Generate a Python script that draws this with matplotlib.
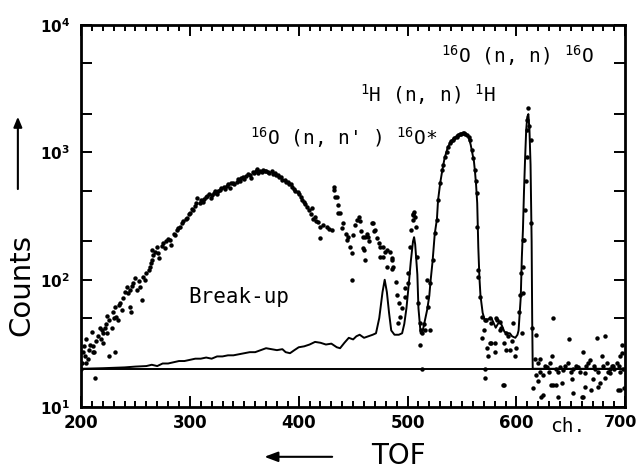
import matplotlib
matplotlib.use('Agg')
import matplotlib.pyplot as plt
from matplotlib.ticker import MultipleLocator, LogLocator, FixedLocator, FixedFormatter, NullFormatter

plt.rcParams['mathtext.fontset'] = 'custom'
plt.rcParams['mathtext.rm'] = 'DejaVu Sans Mono'
plt.rcParams['mathtext.it'] = 'DejaVu Sans Mono'
plt.rcParams['mathtext.bf'] = 'DejaVu Sans:bold'

# ---------------- data ----------------
pts_x = [200, 201, 202, 203, 204, 205, 205, 206, 207, 208, 210, 211, 211, 212, 213, 214, 216, 217, 218, 219,
         220, 220, 222, 223, 224, 224, 226, 226, 228, 229, 230, 231, 231, 232, 234, 235, 236, 238, 239, 240,
         242, 243, 245, 245, 246, 247, 248, 250, 251, 253, 254, 256, 257, 259, 260, 262, 263, 264, 265, 266,
         265, 268, 270, 271, 272, 274, 275, 277, 278, 280, 282, 283, 285, 286, 288, 289, 291, 293, 294, 296,
         297, 299, 300, 302, 303, 305, 306, 307, 309,
         310, 312, 313, 315, 316, 318, 319, 320, 322, 323, 325, 326, 328, 329, 331, 332, 334, 335, 337, 338,
         340, 341, 343, 344, 346, 347, 349, 350, 352, 353, 355, 356, 358, 359, 361, 362, 363, 364, 366, 367,
         369, 370, 372, 373, 375, 376, 378, 379, 381, 382, 384, 385, 387, 388, 390, 391, 393, 394, 396, 397,
         399, 400, 402, 403, 405, 406, 408, 409, 411, 412, 413, 415, 416, 418,
         420, 420, 422, 426, 428, 431, 432, 432, 433, 435, 436, 436, 438, 440, 441, 443, 444, 445, 447, 449,
         449, 450, 452, 454, 455, 456, 457, 459, 459, 460, 461, 461, 463, 464, 465, 467, 468, 469, 470, 472,
         474, 475, 475, 477, 477, 479, 481, 481, 484, 486, 486, 486, 487, 489, 490, 491, 492, 493, 495, 498,
         498, 500, 500,
         502, 503, 505, 505, 505, 506, 507, 508, 509, 510, 511, 511, 512, 513, 513, 515, 516, 518, 518, 519,
         521, 521,
         523, 525, 527, 528, 530, 532, 533, 534, 536, 537, 539, 540, 542, 543, 545, 546, 548, 549, 551, 552,
         553, 555, 556, 557, 559, 560, 562, 563, 564, 564, 565, 565, 567, 568, 568, 570, 571, 571, 571, 572,
         573, 574, 576, 576, 577, 577, 580, 580, 581, 582, 585, 585, 586, 588, 589, 589, 590, 590, 592, 594,
         596, 597, 599, 600, 602, 603, 604, 606,
         605, 606, 606, 607, 608, 609, 610, 610, 610, 611, 612, 613, 613, 614,
         615, 617, 618, 618, 620, 620, 622, 622, 623, 624, 624, 626, 628, 630, 631, 632, 633, 634, 634, 636,
         636, 638, 638, 640, 642, 643, 645, 647, 648, 650, 651, 652, 652, 655, 657, 658, 660, 661, 661, 663,
         663, 664, 666, 668, 669, 670, 671, 672, 674, 675, 675, 677, 679, 680, 681, 681, 683, 684, 686, 686,
         688, 689, 690, 692, 693, 694, 695, 695, 695, 697, 697, 698, 699]
pts_y = [20, 22, 27, 30, 25, 34, 22, 24, 28, 31, 39, 30, 27, 27, 17, 33, 36, 42, 34, 40,
         32, 38, 42, 45, 38, 52, 25, 48, 42, 56, 50, 27, 61, 51, 48, 63, 66, 58, 72, 80,
         88, 78, 83, 61, 56, 90, 94, 103, 83, 98, 88, 69, 105, 100, 113, 120, 126, 135, 143, 157,
         171, 165, 180, 162, 149, 185, 194, 177, 200, 210, 205, 188, 230, 225, 246, 255, 260, 280, 290, 300,
         305, 330, 335, 360, 353, 380, 400, 440, 400,
         420, 410, 430, 450, 455, 470, 440, 465, 480, 500, 470, 495, 510, 530, 540, 520, 545, 560, 530, 575,
         580, 560, 590, 620, 600, 625, 640, 620, 650, 680, 660, 630, 700, 690, 720, 740, 690, 710, 700, 730,
         710, 720, 700, 690, 710, 680, 690, 660, 660, 640, 640, 610, 610, 590, 585, 560, 560, 540, 520, 500,
         487, 470, 450, 420, 410, 395, 370, 350, 330, 365, 300, 310, 290, 285,
         212, 260, 270, 260, 250, 246, 507, 535, 445, 445, 386, 335, 335, 254, 280, 230, 205, 215, 180, 162,
         100, 225, 270, 294, 310, 290, 240, 216, 178, 171, 143, 216, 230, 216, 200, 280, 280, 240, 246, 212,
         195, 180, 150, 150, 180, 165, 171, 126, 165, 143, 149, 122, 126, 96, 76, 46, 66, 51, 60, 73,
         86, 95, 113,
         180, 246, 294, 322, 330, 340, 310, 260, 150, 66, 46, 31, 40, 38, 20, 45, 40, 73, 100, 61,
         94, 40,
         143, 232, 294, 423, 575, 728, 800, 915, 1000, 1100, 1180, 1220, 1250, 1300, 1330, 1370, 1390, 1400, 1410, 1420,
         1400, 1380, 1330, 1250, 1040, 900, 728, 600, 480, 260, 119, 105, 73, 51, 35, 40, 48, 20, 17, 48,
         29, 25, 50, 32, 46, 32, 27, 32, 50, 48, 47, 40, 42, 15, 32, 15, 38, 28, 36, 28,
         33, 46, 25, 29, 56, 76, 113, 205,
         38, 79, 126, 205, 353, 600, 915, 1500, 1800, 2250, 1600, 1250, 280, 42,
         14, 24, 37, 18, 16, 22, 24, 19, 12, 18, 12.4, 21, 20.5, 19, 22, 15, 25, 50, 15, 20,
         15, 19, 12, 20.5, 15.5, 19.5, 21, 22, 34, 19, 16.5, 13, 20, 21, 20.5, 19, 12, 27, 12, 18.5,
         14.5, 21, 22, 23.5, 13.6, 16.5, 21, 20, 35, 19, 14.5, 15.5, 25, 21, 36, 17, 22, 19, 18.5, 20,
         21, 21, 20, 22, 13.5, 21, 19, 25, 13.6, 31, 26.5, 20, 14]

line_x = [200, 220, 240, 250, 260, 265, 270, 275, 280, 285, 290, 295, 300, 305, 310, 315, 320, 325, 330, 335,
          340, 345, 350, 355, 360, 365, 370, 375, 380, 385, 388, 392, 396, 400, 405, 410, 415, 420, 425, 430,
          435, 438, 442, 446, 450, 453, 456, 460, 464, 468, 471, 474, 477, 479, 481, 483, 485, 488, 492, 495,
          497, 499, 501, 503, 505, 506, 507, 509, 510, 512, 514, 516, 518, 520, 521, 523, 525, 527, 528, 530,
          532, 534, 537, 540, 543, 546, 549, 551, 554, 556, 558, 559, 561, 562, 563, 564, 565, 566, 567, 569,
          571, 574, 577, 579, 581, 583, 585, 587, 589, 592, 594, 596, 599, 601, 602, 604, 605, 606, 607, 608,
          609, 610, 611, 612, 613, 614, 614.5, 615, 700]
line_y = [20, 20.2, 20.5, 20.8, 21, 21.5, 21, 22, 22, 22.5, 23, 23, 23.5, 24, 24, 24.5, 24, 25, 25, 25.5,
          25.5, 26, 26.5, 27, 27, 28, 29, 28.5, 28, 28.5, 27, 26.5, 28, 29.5, 30, 31, 32.5, 32, 31, 31.5,
          29.5, 29, 32, 35, 34, 36, 37, 35, 36, 37, 38, 50, 80, 100, 80, 55, 40, 37, 37, 38,
          45, 60, 90, 140, 200, 216, 190, 110, 60, 38, 40, 48, 58, 75, 95, 140, 230, 300, 420, 575,
          730, 900, 1100, 1220, 1300, 1370, 1400, 1420, 1390, 1330, 1150, 1040, 850, 700, 550, 400, 180, 105, 75, 55,
          48, 49, 50, 46, 42, 45, 47, 43, 39, 38, 38, 36, 35, 37, 40, 73, 150, 246, 500, 900,
          1500, 1900, 2000, 1500, 800, 200, 50, 20, 20]

baseline = 20

x_ticks = [200, 300, 400, 500, 600, 700]
x_tick_labels = ['200', '300', '400', '500', '600', '']
last_x_label = '700'
y_ticks = [10, 100, 1000, 10000]
y_tick_labels = [r'$\mathbf{10^{1}}$', r'$\mathbf{10^{2}}$', r'$\mathbf{10^{3}}$', r'$\mathbf{10^{4}}$']

# ---------------- figure ----------------
fig = plt.figure(figsize=(6.38, 4.69), dpi=100)
ax = fig.add_axes([0.127, 0.132, 0.853, 0.8145])
ax.set_yscale('log')
ax.set_xlim(200, 700)
ax.set_ylim(10, 1e4)

ax.axhline(baseline, color='black', lw=1.4, zorder=2)
ax.plot(line_x, line_y, color='black', lw=1.4, zorder=3)
ax.plot(pts_x, pts_y, 'o', ms=3.2, color='black', mew=0, zorder=4)

for s in ax.spines.values():
    s.set_linewidth(2.0)

ax.xaxis.set_major_locator(FixedLocator(x_ticks))
ax.xaxis.set_major_formatter(FixedFormatter(x_tick_labels))
ax.xaxis.set_minor_locator(MultipleLocator(10))
ax.yaxis.set_major_locator(FixedLocator(y_ticks))
ax.yaxis.set_major_formatter(FixedFormatter(y_tick_labels))
ax.yaxis.set_minor_locator(LogLocator(base=10, subs=(2.0, 5.0)))
ax.yaxis.set_minor_formatter(NullFormatter())

ax.tick_params(axis='both', which='both', direction='in', top=True, right=True, width=1.4, color='black')
ax.tick_params(axis='x', which='major', length=8, pad=5)
ax.tick_params(axis='x', which='minor', length=4)
ax.tick_params(axis='y', which='major', length=8, pad=8)
ax.tick_params(axis='y', which='minor', length=8)
for lab in ax.get_xticklabels():
    lab.set_fontweight('bold')
    lab.set_fontsize(12)
for lab in ax.get_yticklabels():
    lab.set_fontsize(11)

# last x tick label, nudged inside the figure edge
fig.text(0.973, 0.132 - 0.016, last_x_label, fontsize=11.5, fontweight='bold', ha='center', va='top')

mono = 'DejaVu Sans Mono'
ax.text(0.662, 0.90, r'${}^{16}$O (n, n) ${}^{16}$O', transform=ax.transAxes,
        family=mono, fontsize=14, va='baseline', ha='left')
ax.text(0.513, 0.798, r'${}^{1}$H (n, n) ${}^{1}$H', transform=ax.transAxes,
        family=mono, fontsize=14, va='baseline', ha='left')
ax.text(0.311, 0.686, r"${}^{16}$O (n, n' ) ${}^{16}$O*", transform=ax.transAxes,
        family=mono, fontsize=14, va='baseline', ha='left')
ax.text(0.197, 0.272, 'Break-up', transform=ax.transAxes,
        family=mono, fontsize=15, va='baseline', ha='left')

fig.text(0.89, 0.09, 'ch.', family=mono, fontsize=14, ha='center', va='center')
fig.text(0.033, 0.392, 'Counts', rotation=90, fontsize=21, ha='center', va='center')
fig.text(0.624, 0.028, 'TOF', fontsize=20, ha='center', va='center')

fig.patches.append(matplotlib.patches.FancyArrowPatch((0.028, 0.591), (0.028, 0.757), transform=fig.transFigure,
                   arrowstyle='-|>,head_length=6,head_width=2.5', color='black', lw=1.5))
fig.patches.append(matplotlib.patches.FancyArrowPatch((0.525, 0.026), (0.410, 0.026), transform=fig.transFigure,
                   arrowstyle='-|>,head_length=8,head_width=3', color='black', lw=1.5))

fig.savefig('out.png', dpi=100)
